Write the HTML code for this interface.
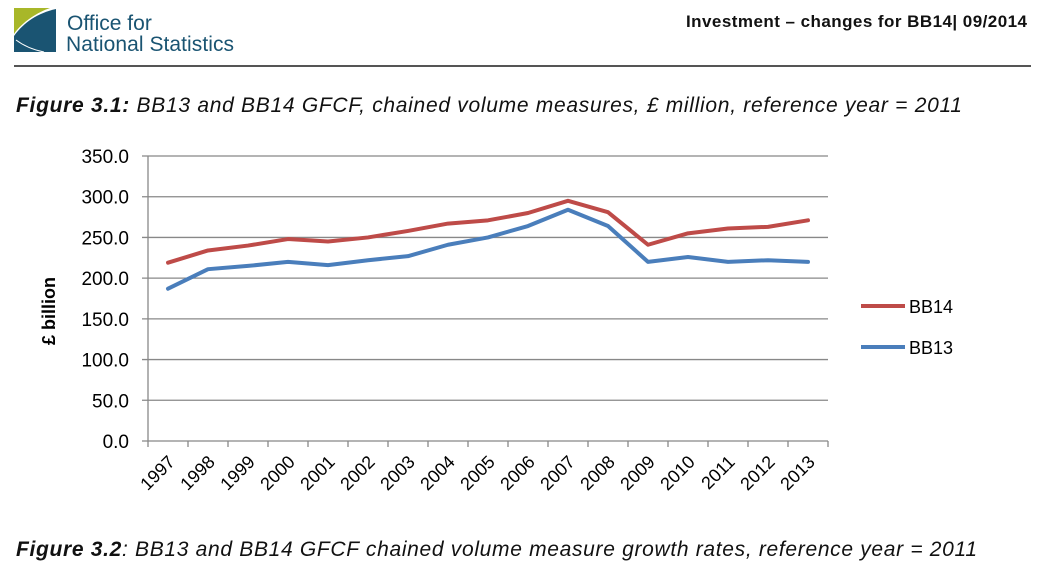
<!DOCTYPE html>
<html><head><meta charset="utf-8"><style>
body{margin:0;width:1039px;height:578px;background:#fff;position:relative;overflow:hidden;font-family:"Liberation Sans",Arial,sans-serif}
.abs{position:absolute}
</style></head><body>
<svg class="abs" style="left:0;top:0" width="1039" height="578">
  <g>
    <path d="M14,8 L50,8 C38,12 22,22 14,34 Z" fill="#a8b729"/>
    <path d="M14,52 L14,36 C24,22 38,13 56,9 L56,52 Z" fill="#1a5472"/>
    <path d="M16,40 C24,46 34,50 44,52" stroke="#fff" stroke-width="1" fill="none"/>
    <text x="67" y="30" font-size="21" fill="#1a5472" font-family="Liberation Sans, sans-serif">Office for</text>
    <text x="66" y="51" font-size="21" fill="#1a5472" font-family="Liberation Sans, sans-serif" textLength="168">National Statistics</text>
  </g>
  <text x="1027" y="27" text-anchor="end" font-size="17" font-weight="bold" fill="#111" textLength="341">Investment – changes for BB14| 09/2014</text>
  <line x1="14" y1="66" x2="1031" y2="66" stroke="#555" stroke-width="2"/>
  <text x="16" y="112" font-size="21" font-style="italic" fill="#111" textLength="946"><tspan font-weight="bold">Figure 3.1:</tspan> BB13 and BB14 GFCF, chained volume measures, £ million, reference year = 2011</text>
  <text x="16" y="556" font-size="21" font-style="italic" fill="#111" textLength="961"><tspan font-weight="bold">Figure 3.2</tspan>: BB13 and BB14 GFCF chained volume measure growth rates, reference year = 2011</text>
  <text transform="translate(55,311) rotate(-90)" text-anchor="middle" font-size="18" font-weight="bold" fill="#000">£ billion</text>
  <g id="chart"></g>
</svg>
<script>
const categories=["1997","1998","1999","2000","2001","2002","2003","2004","2005","2006","2007","2008","2009","2010","2011","2012","2013"];
const bb14=[219,234,240,248,245,250,258,267,271,280,295,281,241,255,261,263,271];
const bb13=[187,211,215,220,216,222,227,241,250,264,284,264,220,226,220,222,220];
const yTicks=[0,50,100,150,200,250,300,350];
const NS="http://www.w3.org/2000/svg";
const g=document.getElementById('chart');
const L=148,R=828,T=156,B=441,yMax=350;
const bw=(R-L)/categories.length;
const x=i=>L+bw*(i+0.5);
const y=v=>B-(v/yMax)*(B-T);
function mk(t,a){const e=document.createElementNS(NS,t);for(const k in a)e.setAttribute(k,a[k]);g.appendChild(e);return e;}
yTicks.forEach(v=>{
  const ln=mk('line',{x1:L-6,x2:R,y1:y(v),y2:y(v),stroke:'#888','stroke-width':1.3});
  
  
  const t=mk('text',{x:L-19,y:y(v)+7,'text-anchor':'end','font-size':19,fill:'#000'});
  t.textContent=v.toFixed(1);
  
  
});
const ax=mk('line',{x1:L,x2:L,y1:T,y2:B,stroke:'#888','stroke-width':1.3});


for(let i=0;i<=categories.length;i++){
  const tk=mk('line',{x1:L+bw*i,x2:L+bw*i,y1:B,y2:B+6,stroke:'#888','stroke-width':1.3});
  
  
}
categories.forEach((c,i)=>{
  const t=mk('text',{transform:`translate(${x(i)+8},${B+22}) rotate(-45)`,'text-anchor':'end','font-size':18,fill:'#000'});
  t.textContent=c;
  
  
});
function series(vals,color,name){
  const p=mk('polyline',{points:vals.map((v,i)=>x(i)+','+y(v)).join(' '),fill:'none',stroke:color,'stroke-width':4,'stroke-linejoin':'round','stroke-linecap':'round'});
  
  
}
series(bb13,'#4a7ebb','line-bb13');
series(bb14,'#be4b48','line-bb14');
[['BB14','#be4b48',306],['BB13','#4a7ebb',347]].forEach(([n,c,yy])=>{
  const l=mk('line',{x1:861,x2:905,y1:yy,y2:yy,stroke:c,'stroke-width':4});
  
  
  const t=mk('text',{x:909,y:yy+7,'font-size':18,fill:'#000'});
  t.textContent=n;
  
  
});
</script>
</body></html>
